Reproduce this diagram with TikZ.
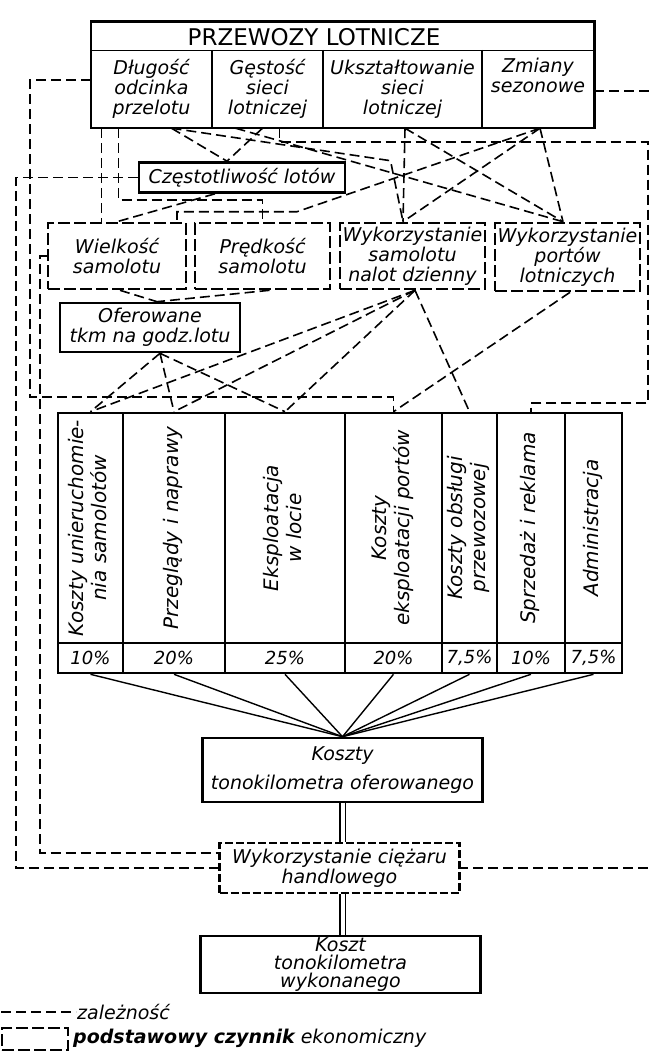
\documentclass[tikz,border=0pt]{standalone}
\usepackage{fontspec}
\setmainfont{DejaVu Sans}
\usepackage{graphicx}
\usetikzlibrary{calc}

\newcommand{\pion}[1]{\rotatebox{90}{\begin{tabular}{@{}c@{}}#1\end{tabular}}}

\begin{document}
\begin{tikzpicture}[x = 1pt, y = -1pt,
    every node/.style = {font = \fontsize{19}{20}\selectfont\itshape},
    box/.style = {draw, line width = 2.6pt, inner sep = 0pt, align = center},
    komorka/.style = {inner sep = 0pt, minimum height = 78pt, align = center},
    czynnik/.style = {draw, dash pattern = on 12pt off 4pt, line width = 2.6pt, inner sep = 0pt, align = center},
    dep/.style = {dash pattern = on 10pt off 5pt, line width = 1.6pt},
    kolumna/.style = {draw, line width = 2.6pt, inner sep = 0pt, minimum height = 230pt,
        font = \fontsize{20}{23}\selectfont\itshape},
    udzial/.style = {draw, line width = 2.6pt, inner sep = 0pt, minimum height = 30pt,
        font = \fontsize{18}{18}\selectfont\itshape}]
    \useasboundingbox (0,0) rectangle (652,1054);

    % przewozy lotnicze
    \node[inner sep = 0pt, minimum width = 503pt, minimum height = 28pt] (tytul) at (342.5,36) {};
    \node[font = \fontsize{23}{24}\selectfont\upshape] (tytulnapis) at (314,37) {PRZEWOZY LOTNICZE};
    \node[komorka, minimum width = 121pt] (dlugosc) at (151.5,89) {Długość\\odcinka\\przelotu};
    \node[komorka, minimum width = 111pt] (gestosc) at (267.5,89) {Gęstość\\sieci\\lotniczej};
    \node[komorka, minimum width = 159pt] (uksztal) at (402.5,89) {Ukształtowanie\\sieci\\lotniczej};
    \node[komorka, minimum width = 112pt, text depth = 28pt] (zmiany) at (538,89) {Zmiany\\sezonowe};
    \draw[line width = 2.6pt] (tytul.north west) rectangle (zmiany.south east);
    \draw[line width = 0.8pt] (tytul.south west) -- (tytul.south east);
    \draw[line width = 1.8pt] (dlugosc.north east) -- (dlugosc.south east)
        (gestosc.north east) -- (gestosc.south east)
        (uksztal.north east) -- (uksztal.south east);

    % czynniki
    \node[box, minimum width = 206pt, minimum height = 30pt] (czest) at (242,177.5) {Częstotliwość lotów};
    \node[czynnik, minimum width = 138pt, minimum height = 66pt] (wielkosc) at (117,256) {Wielkość\\samolotu};
    \node[czynnik, minimum width = 135pt, minimum height = 66pt] (predkosc) at (262.5,256) {Prędkość\\samolotu};
    \node[czynnik, minimum width = 145pt, minimum height = 66pt] (wyksam) at (412.5,256) {Wykorzystanie\\samolotu\\nalot dzienny};
    \node[czynnik, minimum width = 145pt, minimum height = 68pt] (wykport) at (567.5,257) {Wykorzystanie\\portów\\lotniczych};
    \node[box, minimum width = 180pt, minimum height = 49pt] (ofer) at (150,327.5) {Oferowane\\tkm na godz.lotu};

    % koszty
    \node[kolumna, minimum width = 65pt] (k1) at (90.5,528) {\pion{Koszty unieruchomie-\\nia samolotów}};
    \node[kolumna, minimum width = 102pt] (k2) at (174,528) {\pion{Przeglądy i naprawy}};
    \node[kolumna, minimum width = 120pt] (k3) at (285,528) {\pion{Eksploatacja\\w locie}};
    \node[kolumna, minimum width = 97pt] (k4) at (393.5,528) {\pion{Koszty\\eksploatacji portów}};
    \node[kolumna, minimum width = 55pt] (k5) at (469.5,528) {\pion{Koszty obsługi\\przewozowej}};
    \node[kolumna, minimum width = 68pt] (k6) at (531,528) {\pion{Sprzedaż i reklama}};
    \node[kolumna, minimum width = 57pt] (k7) at (593.5,528) {\pion{Administracja}};
    \node[udzial, minimum width = 65pt] (p1) at (90.5,658) {10\%};
    \node[udzial, minimum width = 102pt] (p2) at (174,658) {20\%};
    \node[udzial, minimum width = 120pt] (p3) at (285,658) {25\%};
    \node[udzial, minimum width = 97pt] (p4) at (393.5,658) {20\%};
    \node[udzial, minimum width = 55pt] (p5) at (469.5,658) {7,5\%};
    \node[udzial, minimum width = 68pt] (p6) at (531,658) {10\%};
    \node[udzial, minimum width = 57pt] (p7) at (593.5,658) {7,5\%};

    \node[box, minimum width = 280pt, minimum height = 64pt] (koszty) at (342.5,770) {Koszty\\[9pt]tonokilometra oferowanego};
    \node[czynnik, dash pattern = on 8pt off 3pt, minimum width = 240pt, minimum height = 50pt] (wykc) at (339.5,868)
        {Wykorzystanie ciężaru\\handlowego};
    \node[box, minimum width = 280pt, minimum height = 57pt, font = \fontsize{19}{18}\selectfont\itshape] (koszt) at (340.5,964.5)
        {Koszt\\tonokilometra\\wykonanego};

    \foreach \k in {1,...,7}
        \draw[line width = 1.4pt] (p\k.south) -- (koszty.north);
    \draw[double, double distance = 4pt, line width = 1.3pt] (koszty.south) -- (koszty.south |- wykc.north);
    \draw[double, double distance = 4pt, line width = 1.3pt] (koszty.south |- wykc.south) -- (koszty.south |- koszt.north);

    % zaleznosci
    \coordinate (szynaA) at (16,0);
    \coordinate (szynaB) at (30,397);
    \coordinate (szynaP) at (648,403);
    \coordinate (szynaR) at (660,0);
    \draw[dep] ([xshift = 20pt]dlugosc.south) -- ([xshift = -15pt]czest.north);
    \draw[dep] ([xshift = -5pt]gestosc.south) -- ([xshift = -15pt]czest.north);
    \draw[dep] ([xshift = 20pt]dlugosc.south) -- ($(wyksam.north)+(-22,-61)$) -- ([xshift = -9.5pt]wyksam.north);
    \draw[dep] ([xshift = -50pt]dlugosc.south) -- ([xshift = -50pt]dlugosc.south |- wielkosc.north);
    \draw[dep] ([xshift = -33pt]dlugosc.south) -- ++(0,72) -| (predkosc.north);
    \draw[dep] ([xshift = -32pt]gestosc.south) -- ([xshift = -4.5pt]wykport.north);
    \draw[dep] ([xshift = 2.5pt]uksztal.south) -- ([xshift = -9.5pt]wyksam.north);
    \draw[dep] ([xshift = 2.5pt]uksztal.south) -- ([xshift = -4.5pt]wykport.north);
    \draw[dep] ([xshift = 2pt]zmiany.south) -- ([xshift = -9.5pt]wyksam.north);
    \draw[dep] ([xshift = 2pt]zmiany.south) -- ([xshift = -4.5pt]wykport.north);
    \draw[dep] ([xshift = 2pt]zmiany.south) -- ($(wielkosc.north)+(180,-10)$) -| ([xshift = 60pt]wielkosc.north);
    \draw[dep] ([xshift = -27pt]czest.south) -- (wielkosc.north);
    \draw[dep] ([xshift = 3pt]wielkosc.south) -- ([xshift = 7pt]ofer.north);
    \draw[dep] ([xshift = 7pt]predkosc.south) -- ([xshift = 7pt]ofer.north);
    \draw[dep] ([xshift = 10pt]ofer.south) -- (k1.north);
    \draw[dep] ([xshift = 10pt]ofer.south) -- (k2.north);
    \draw[dep] ([xshift = 10pt]ofer.south) -- (k3.north);
    \draw[dep] ([xshift = 2.5pt]wyksam.south) -- (k1.north);
    \draw[dep] ([xshift = 2.5pt]wyksam.south) -- (k2.north);
    \draw[dep] ([xshift = 2.5pt]wyksam.south) -- (k3.north);
    \draw[dep] ([xshift = 2.5pt]wyksam.south) -- (k5.north);
    \draw[dep] ([xshift = 2.5pt]wykport.south) -- (k4.north);

    % dlugie polaczenia
    \draw[dep] ([yshift = 9pt]dlugosc.west) -| (szynaB) -| (k4.north);
    \draw[dep] (czest.west) -| (szynaA |- wykc.west) -- (wykc.west);
    \draw[dep] (wielkosc.west) -- ++(-7,0) |- ([yshift = 15pt]wykc.west);
    \draw[dep] ([yshift = -2pt]zmiany.east) -| (szynaR |- wykc.east) -- (wykc.east);
    \draw[dep] ([xshift = 12pt]gestosc.south) -- ++(0,14) -| (szynaP) -| (k6.north);

    % legenda
    \coordinate (lgA) at (1,1012);
    \node[anchor = west, inner sep = 1pt] (lzal) at (76,1012) {zależność};
    \draw[dep, line width = 1.8pt] (lgA) -- (lzal.west);
    \node[czynnik, minimum width = 66pt, minimum height = 22pt] (lbox) at (35,1039) {};
    \node[anchor = west, inner sep = 1pt] (lczyn) at (72,1038) {\textbf{podstawowy czynnik} ekonomiczny};
\end{tikzpicture}
\end{document}
